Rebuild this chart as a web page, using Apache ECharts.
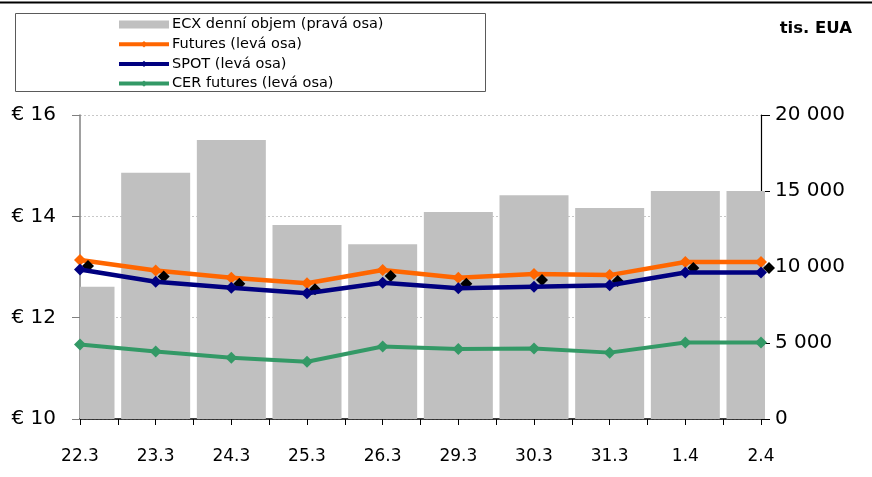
<!DOCTYPE html>
<html>
<head>
<meta charset="utf-8">
<script src="https://cdn.jsdelivr.net/npm/echarts@6/dist/echarts.min.js"></script>
<style>
html,body{margin:0;padding:0;background:#fff;}
#chart{width:872px;height:477px;}
</style>
</head>
<body>
<div id="chart"></div>
<script>
var categories = ['22.3','23.3','24.3','25.3','26.3','29.3','30.3','31.3','1.4','2.4'];
var ecxVolume = [8700, 16200, 18350, 12760, 11500, 13620, 14720, 13880, 15000, 15000];
var futures = [13.14, 12.93, 12.79, 12.68, 12.94, 12.79, 12.86, 12.84, 13.10, 13.10];
var spot = [12.95, 12.71, 12.59, 12.48, 12.69, 12.58, 12.61, 12.64, 12.89, 12.89];
var cerFutures = [11.47, 11.33, 11.21, 11.13, 11.43, 11.38, 11.39, 11.31, 11.51, 11.51];
var midTicks = ['a','b','c','d','e','f','g','h','i'];

var names = ['ECX denní objem (pravá osa)','Futures (levá osa)','SPOT (levá osa)','CER futures (levá osa)'];
var FONT = 'DejaVu Sans';
var BAR_W = 69;

function spaceThousands(v){
  return String(v).replace(/\B(?=(\d{3})+(?!\d))/g, ' ');
}

function renderBar(params, api){
  var top = api.coord([api.value(0), api.value(1)]);
  var base = api.coord([api.value(0), 0]);
  var cs = params.coordSys;
  var shape = echarts.graphic.clipRectByRect(
    {x: top[0] - BAR_W / 2, y: top[1], width: BAR_W, height: base[1] - top[1]},
    {x: cs.x, y: cs.y, width: cs.width + 4, height: cs.height}
  );
  if (!shape) return null;
  return {type: 'rect', shape: shape, style: {fill: '#c0c0c0'}};
}

var chart = echarts.init(document.getElementById('chart'), null, {renderer:'canvas'});
chart.setOption({
  animation: false,
  backgroundColor: '#ffffff',
  textStyle: {fontFamily: FONT},
  title: {
    text: 'tis. EUA', right: 20, top: 20, padding: 0,
    textStyle: {fontFamily: FONT, fontSize: 16.5, fontWeight: 'bold', color: '#000'}
  },
  graphic: [
    {type:'line', shape:{x1:0, y1:2.5, x2:872, y2:2.5}, style:{stroke:'#000', lineWidth:2}, z:100},
    {type:'rect', shape:{x:15.5, y:13.5, width:470, height:78}, style:{fill:null, stroke:'#5a5a5a', lineWidth:1}, z:100}
  ],
  legend: {
    orient: 'vertical', left: 117, top: 17, padding: 0,
    itemWidth: 50, itemHeight: 8, itemGap: 4.7,
    lineStyle: {width: 4},
    textStyle: {fontFamily: FONT, fontSize: 14.5, color: '#000', lineHeight: 14.5, padding: [0,0,0,-2]},
    data: [
      {name: names[0], icon: 'rect', itemStyle: {color: '#c0c0c0'}},
      {name: names[1], itemStyle: {shadowColor: 'rgba(0,0,0,0)', shadowOffsetX: 0, shadowOffsetY: 0}},
      {name: names[2]},
      {name: names[3]}
    ]
  },
  grid: {left: 80, right: 111, top: 115, bottom: 58, containLabel: false},
  xAxis: [
    {
      type: 'category', data: categories, boundaryGap: false, position: 'bottom',
      axisLine: {show: true, lineStyle: {color: '#000', width: 1.5}},
      axisTick: {show: true, length: 6, lineStyle: {color: '#000'}},
      axisLabel: {fontFamily: FONT, fontSize: 17, color: '#000', margin: 29},
      splitLine: {show: false}
    },
    {
      type: 'category', data: midTicks, boundaryGap: true, position: 'bottom',
      axisLine: {show: false},
      axisTick: {show: true, alignWithLabel: true, length: 6, lineStyle: {color: '#000'}},
      axisLabel: {show: false},
      splitLine: {show: false}
    }
  ],
  yAxis: [
    {
      type: 'value', min: 10, max: 16, interval: 2, position: 'left',
      axisLine: {show: true, lineStyle: {color: '#808080', width: 1.5}},
      axisTick: {show: true, length: 8, lineStyle: {color: '#808080'}},
      axisLabel: {fontFamily: FONT, fontSize: 20, color: '#000', margin: 24, padding: [5,0,0,0],
        formatter: function(v){ return '\u20ac ' + v; }},
      splitLine: {show: true, lineStyle: {color: '#c8c8c8', type: [2,2], width: 1}}
    },
    {
      type: 'value', min: 0, max: 20000, interval: 5000, position: 'right',
      axisLine: {show: true, lineStyle: {color: '#000', width: 1.2}},
      axisTick: {show: true, length: 9, lineStyle: {color: '#000'}},
      axisLabel: {fontFamily: FONT, fontSize: 20, color: '#000', margin: 14,
        formatter: function(v){ return spaceThousands(v); }},
      splitLine: {show: false}
    }
  ],
  series: [
    {
      name: names[0], type: 'custom', xAxisIndex: 0, yAxisIndex: 1,
      data: ecxVolume.map(function(v, i){ return [i, v]; }),
      encode: {x: 0, y: 1},
      renderItem: renderBar,
      itemStyle: {color: '#c0c0c0'},
      clip: false, z: 1
    },
    {
      name: names[1], type: 'line', data: futures, yAxisIndex: 0,
      symbol: 'diamond', symbolSize: 12,
      lineStyle: {color: '#ff6600', width: 4.5},
      itemStyle: {color: '#ff6600', shadowColor: '#000', shadowBlur: 0, shadowOffsetX: 8, shadowOffsetY: 6},
      z: 3
    },
    {
      name: names[2], type: 'line', data: spot, yAxisIndex: 0,
      symbol: 'diamond', symbolSize: 12,
      lineStyle: {color: '#000080', width: 4.5},
      itemStyle: {color: '#000080'},
      z: 4
    },
    {
      name: names[3], type: 'line', data: cerFutures, yAxisIndex: 0,
      symbol: 'diamond', symbolSize: 12,
      lineStyle: {color: '#339966', width: 4},
      itemStyle: {color: '#339966'},
      z: 3
    }
  ]
});
</script>
</body>
</html>
